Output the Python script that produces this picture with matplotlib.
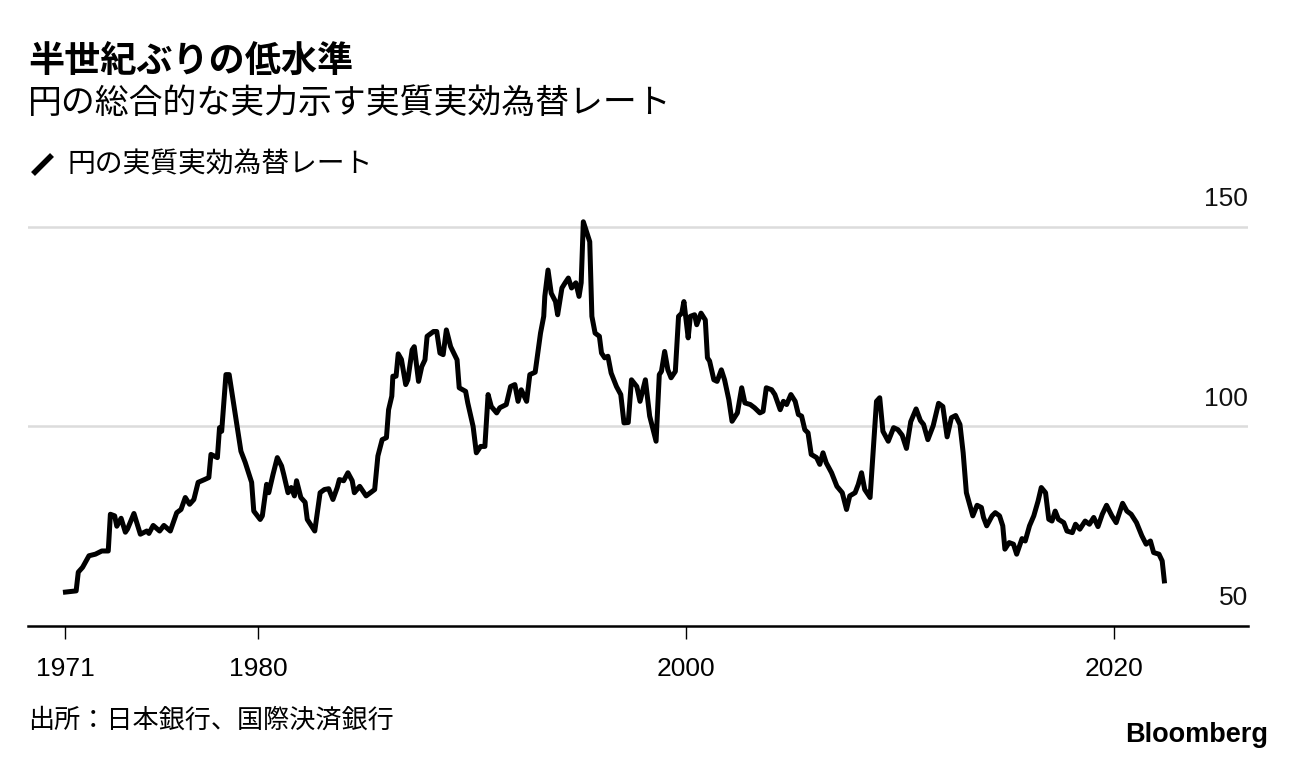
import numpy as np
import matplotlib
matplotlib.use('Agg')
import matplotlib.pyplot as plt
from matplotlib.lines import Line2D

plt.rcParams['font.family'] = ['Noto Sans CJK JP', 'DejaVu Sans']

years = [
    1971.0, 1971.5, 1971.6, 1971.8, 1972.1, 1972.4, 1972.7, 1973.0, 1973.1, 1973.3,
    1973.4, 1973.6, 1973.8, 1973.9, 1974.2, 1974.5, 1974.8, 1974.9, 1975.1, 1975.4,
    1975.6, 1975.9, 1976.2, 1976.4, 1976.6, 1976.8, 1977.0, 1977.2, 1977.5, 1977.7,
    1977.8, 1978.1, 1978.2, 1978.3, 1978.5, 1978.65, 1979.2, 1979.4, 1979.7, 1979.8,
    1980.1, 1980.2, 1980.4, 1980.5, 1980.7, 1980.9, 1981.1, 1981.2, 1981.4, 1981.55,
    1981.7, 1981.8, 1982.0, 1982.2, 1982.3, 1982.65, 1982.9, 1983.1, 1983.3, 1983.5,
    1983.7, 1983.8, 1984.0, 1984.2, 1984.4, 1984.5, 1984.75, 1985.05, 1985.45, 1985.6,
    1985.8, 1986.0, 1986.1, 1986.25, 1986.3, 1986.45, 1986.55, 1986.7, 1986.9, 1987.0,
    1987.2, 1987.3, 1987.5, 1987.65, 1987.8, 1987.9, 1988.0, 1988.2, 1988.35, 1988.5,
    1988.65, 1988.8, 1989.0, 1989.3, 1989.4, 1989.7, 1989.8, 1990.05, 1990.2, 1990.4,
    1990.6, 1990.75, 1990.9, 1991.15, 1991.3, 1991.6, 1991.8, 1992.0, 1992.15, 1992.3,
    1992.55, 1992.7, 1992.95, 1993.2, 1993.35, 1993.4, 1993.55, 1993.7, 1993.9, 1994.0,
    1994.2, 1994.35, 1994.5, 1994.65, 1994.85, 1995.0, 1995.1, 1995.2, 1995.35, 1995.5,
    1995.6, 1995.75, 1995.95, 1996.05, 1996.2, 1996.35, 1996.5, 1996.75, 1996.95, 1997.1,
    1997.3, 1997.45, 1997.7, 1997.85, 1998.1, 1998.3, 1998.6, 1998.75, 1998.85, 1999.0,
    1999.15, 1999.3, 1999.5, 1999.65, 1999.8, 1999.9, 2000.1, 2000.2, 2000.4, 2000.5,
    2000.7, 2000.9, 2001.0, 2001.1, 2001.3, 2001.45, 2001.65, 2001.8, 2002.0, 2002.15,
    2002.4, 2002.6, 2002.75, 2003.0, 2003.2, 2003.45, 2003.6, 2003.75, 2004.0, 2004.15,
    2004.4, 2004.55, 2004.7, 2004.9, 2005.1, 2005.25, 2005.4, 2005.55, 2005.7, 2005.85,
    2006.1, 2006.25, 2006.4, 2006.55, 2006.8, 2007.05, 2007.3, 2007.5, 2007.65, 2007.9,
    2008.05, 2008.2, 2008.35, 2008.6, 2008.7, 2008.9, 2009.05, 2009.2, 2009.45, 2009.7,
    2009.9, 2010.1, 2010.3, 2010.5, 2010.75, 2010.95, 2011.1, 2011.3, 2011.55, 2011.8,
    2012.0, 2012.2, 2012.4, 2012.6, 2012.8, 2012.95, 2013.1, 2013.25, 2013.4, 2013.6,
    2013.8, 2013.9, 2014.05, 2014.3, 2014.45, 2014.65, 2014.8, 2014.9, 2015.1, 2015.3,
    2015.45, 2015.7, 2015.85, 2016.05, 2016.25, 2016.45, 2016.6, 2016.8, 2016.95, 2017.1,
    2017.25, 2017.4, 2017.65, 2017.8, 2018.05, 2018.2, 2018.4, 2018.65, 2018.85, 2019.05,
    2019.25, 2019.45, 2019.65, 2019.9, 2020.1, 2020.4, 2020.6, 2020.8, 2021.05, 2021.3,
    2021.5, 2021.7, 2021.85, 2022.1, 2022.25, 2022.35,
]
reer = [
    58.5, 58.8, 63.5, 64.7, 67.6, 68.0, 68.8, 68.8, 78.0, 77.6,
    75.0, 77.0, 73.5, 74.3, 78.2, 73.0, 73.8, 73.2, 75.2, 73.8,
    75.2, 73.8, 78.4, 79.2, 82.2, 80.5, 81.7, 86.0, 86.7, 87.2,
    93.0, 92.2, 99.7, 98.8, 113.0, 113.0, 93.8, 91.0, 86.0, 78.8,
    76.7, 77.6, 85.5, 83.4, 88.0, 92.2, 90.1, 88.0, 83.4, 84.7,
    82.6, 86.4, 82.2, 81.0, 76.7, 73.8, 83.4, 84.2, 84.4, 81.7,
    84.7, 86.7, 86.4, 88.4, 86.4, 83.4, 85.0, 82.6, 84.2, 92.6,
    96.7, 97.2, 104.2, 107.6, 112.6, 112.6, 118.2, 116.8, 110.5, 111.7,
    119.2, 120.0, 111.3, 115.0, 116.7, 122.6, 123.0, 123.8, 123.8, 118.4,
    118.0, 124.2, 120.0, 116.7, 109.7, 108.8, 105.9, 100.0, 93.4, 95.0,
    95.0, 108.0, 105.0, 103.4, 104.7, 105.5, 110.0, 110.5, 106.3, 109.2,
    106.3, 113.0, 113.6, 123.4, 127.6, 132.6, 139.2, 133.4, 131.3, 128.0,
    134.7, 136.0, 137.2, 134.7, 136.0, 132.6, 136.0, 151.3, 148.8, 146.3,
    127.6, 123.4, 122.6, 118.4, 117.2, 117.6, 113.4, 110.0, 108.0, 100.9,
    101.0, 111.7, 110.0, 106.3, 111.7, 102.6, 96.3, 113.0, 113.8, 118.8,
    114.2, 112.2, 113.8, 127.6, 128.4, 131.3, 122.2, 127.6, 128.0, 125.5,
    128.4, 126.7, 117.2, 116.4, 111.7, 111.3, 114.2, 111.7, 106.7, 101.3,
    103.4, 109.7, 105.9, 105.5, 104.7, 103.4, 103.8, 109.7, 109.2, 108.0,
    104.2, 106.3, 105.5, 108.0, 106.3, 103.0, 102.6, 99.2, 98.4, 93.0,
    92.2, 90.5, 93.4, 90.9, 88.4, 85.0, 83.4, 79.2, 82.6, 83.4,
    85.5, 88.4, 84.2, 82.2, 90.1, 106.3, 107.2, 98.8, 96.3, 99.7,
    99.2, 97.8, 94.5, 101.2, 104.4, 101.5, 100.5, 96.7, 100.2, 105.8,
    105.0, 97.4, 102.2, 102.75, 100.5, 93.4, 83.4, 80.5, 77.6, 80.25,
    79.7, 77.2, 75.1, 77.6, 78.4, 77.6, 75.1, 69.25, 70.9, 70.5,
    68.0, 71.9, 71.3, 75.1, 77.6, 81.3, 84.7, 83.4, 76.75, 76.3,
    78.8, 76.75, 75.9, 73.8, 73.4, 75.5, 74.25, 76.3, 75.5, 77.2,
    74.9, 78.0, 80.25, 77.6, 75.9, 80.75, 78.8, 78.0, 75.9, 72.6,
    70.5, 71.3, 68.4, 68.0, 66.3, 61.3,
]

xticks = [1971, 1980, 2000, 2020]
yticks = [50, 100, 150]

title = '半世紀ぶりの低水準'
subtitle = '円の総合的な実力示す実質実効為替レート'
legend_label = '円の実質実効為替レート'
source = '出所：日本銀行、国際決済銀行'

num_font = ['Liberation Sans', 'DejaVu Sans']

W, H = 1296, 760
fig = plt.figure(figsize=(W / 100, H / 100), dpi=100)
ax = fig.add_axes([28 / W, 1 - 626 / H, 1220 / W, (626 - 207) / H])

ax.plot(years, reer, color='black', lw=3.6, solid_joinstyle='round', zorder=3)

ax.set_xlim(1969.25, 2026.26)
ax.set_ylim(50, 155)

for v in yticks[1:]:
    ax.axhline(v, color='#dcdcdc', lw=1.8, zorder=1)
for v in yticks:
    ax.text(2026.26, v + 7, str(v), ha='right', va='center', fontsize=19,
            family=num_font, color='#111111')

for s in ['top', 'right', 'left']:
    ax.spines[s].set_visible(False)
ax.spines['bottom'].set_linewidth(1.8)
ax.spines['bottom'].set_color('black')

ax.set_yticks([])
ax.set_xticks(xticks)
ax.set_xticklabels([str(t) for t in xticks], fontsize=19, family=num_font)
ax.tick_params(axis='x', length=9, width=1.0, pad=13, color='black')

# header
fig.text(28 / W, 1 - 62 / H, title, fontsize=26, fontweight='bold', va='center', ha='left')
fig.text(28 / W, 1 - 103 / H, subtitle, fontsize=24.4, va='center', ha='left')

# legend swatch + label
fig.add_artist(Line2D([33 / W, 52 / W], [1 - 174 / H, 1 - 155 / H], color='black',
                      lw=4, solid_capstyle='butt', transform=fig.transFigure))
fig.text(67 / W, 1 - 164 / H, legend_label, fontsize=20, va='center', ha='left')

# footer
fig.text(28 / W, 1 - 720 / H, source, fontsize=18.8, va='center', ha='left')
fig.text(1268 / W, 1 - 735 / H, 'Bloomberg', fontsize=19.5, fontweight='bold',
         family=num_font, va='center', ha='right')

fig.savefig('out.png', dpi=100)
